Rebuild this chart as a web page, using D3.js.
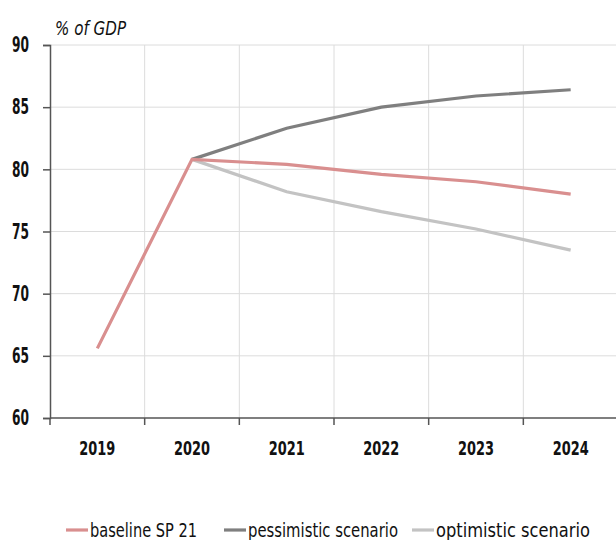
<!DOCTYPE html>
<html>
<head>
<meta charset="utf-8">
<script src="https://cdn.jsdelivr.net/npm/d3@7"></script>
<style>
  html, body { margin: 0; padding: 0; background: #fff; }
  svg text { font-family: "DejaVu Sans Condensed", "DejaVu Sans", sans-serif; font-stretch: condensed; fill: #111; }
</style>
</head>
<body>
<svg id="chart" width="616" height="540"></svg>
<script>
// Public debt path, % of GDP
const years = ["2019", "2020", "2021", "2022", "2023", "2024"];
const baseline = [65.6, 80.8, 80.4, 79.6, 79.0, 78.0];
const pessimistic = [null, 80.8, 83.3, 85.0, 85.9, 86.4];
const optimistic = [null, 80.8, 78.2, 76.6, 75.2, 73.5];
const yTicks = [60, 65, 70, 75, 80, 85, 90];
const seriesNames = ["baseline SP 21", "pessimistic scenario", "optimistic scenario"];
const seriesColors = ["#d98f8f", "#7f7f7f", "#c3c3c3"];

const svg = d3.select("#chart");
const plotLeft = 50, plotRight = 618, plotTop = 45, plotBottom = 418;

const x = d3.scaleBand().domain(years).range([plotLeft, plotRight]).paddingInner(0).paddingOuter(0);
const y = d3.scaleLinear().domain([60, 90]).range([plotBottom, plotTop]);

// horizontal grid
svg.append("g").selectAll("line").data(yTicks.filter(t => t > 60)).join("line")
  .attr("x1", plotLeft).attr("x2", 616)
  .attr("y1", d => y(d)).attr("y2", d => y(d))
  .attr("stroke", "#dcdcdc").attr("stroke-width", 1);

// vertical grid at category boundaries
svg.append("g").selectAll("line").data(years.slice(1)).join("line")
  .attr("x1", d => x(d)).attr("x2", d => x(d))
  .attr("y1", plotTop).attr("y2", plotBottom)
  .attr("stroke", "#dcdcdc").attr("stroke-width", 1);

// y axis
const yAxis = svg.append("g").attr("transform", `translate(${plotLeft},0)`)
  .call(d3.axisLeft(y).tickValues(yTicks).tickSize(7).tickPadding(14));
yAxis.select(".domain").attr("stroke", "#555").attr("stroke-width", 1.5);
yAxis.selectAll(".tick line").attr("stroke", "#555").attr("stroke-width", 1.5);
yAxis.selectAll("text").attr("font-size", 21).attr("font-weight", "bold").attr("fill", "#111")
  .attr("textLength", 17).attr("lengthAdjust", "spacingAndGlyphs");

// x axis: ticks at band boundaries, labels at band centres
const xAxisG = svg.append("g").attr("transform", `translate(0,${plotBottom})`);
xAxisG.append("line").attr("x1", plotLeft).attr("x2", 616).attr("y1", 0).attr("y2", 0)
  .attr("stroke", "#555").attr("stroke-width", 1.5);
xAxisG.selectAll("line.tk").data(years).join("line").attr("class", "tk")
  .attr("x1", d => x(d)).attr("x2", d => x(d)).attr("y1", 0).attr("y2", 7)
  .attr("stroke", "#555").attr("stroke-width", 1.5);
xAxisG.selectAll("text").data(years).join("text")
  .attr("x", d => x(d) + x.bandwidth() / 2 - 18).attr("y", 37)
  .attr("font-size", 20).attr("font-weight", "bold")
  .attr("textLength", 36).attr("lengthAdjust", "spacingAndGlyphs")
  .text(d => d);

// unit label
svg.append("text").attr("x", 55).attr("y", 35)
  .attr("font-size", 19).attr("font-style", "italic")
  .attr("textLength", 71).attr("lengthAdjust", "spacingAndGlyphs")
  .text("% of GDP");

// lines
const line = d3.line()
  .defined(d => d != null)
  .x((d, i) => x(years[i]) + x.bandwidth() / 2)
  .y(d => y(d));

const seriesData = [baseline, pessimistic, optimistic];
[2, 1, 0].forEach(i => {
  svg.append("path").datum(seriesData[i])
    .attr("fill", "none").attr("stroke", seriesColors[i]).attr("stroke-width", 3.2)
    .attr("d", line);
});

// legend
const legendX = [66, 224, 412];
const legendW = [107, 150, 154];
const lg = svg.append("g");
seriesNames.forEach((name, i) => {
  lg.append("line").attr("x1", legendX[i]).attr("x2", legendX[i] + 22)
    .attr("y1", 530).attr("y2", 530).attr("stroke", seriesColors[i]).attr("stroke-width", 3.2);
  lg.append("text").attr("x", legendX[i] + 24).attr("y", 537)
    .attr("font-size", 19)
    .attr("textLength", legendW[i]).attr("lengthAdjust", "spacingAndGlyphs")
    .text(name);
});
</script>
</body>
</html>
